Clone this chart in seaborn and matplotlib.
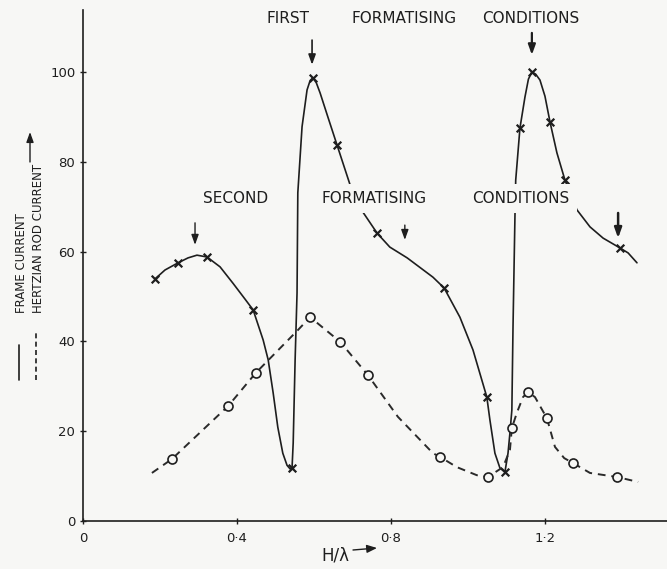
import matplotlib
matplotlib.use("Agg")
import matplotlib.pyplot as plt
import pandas as pd
import seaborn as sns

# Frame current: traced curve (H/lambda, current)
frame_curve_x = [0.187, 0.213, 0.247, 0.273, 0.296, 0.322, 0.356, 0.390, 0.421, 0.442,
                 0.468, 0.481, 0.494, 0.506, 0.519, 0.530, 0.538, 0.543, 0.546, 0.551,
                 0.556, 0.558, 0.569, 0.582, 0.590, 0.597, 0.606, 0.616, 0.636, 0.660,
                 0.681, 0.694, 0.727, 0.764, 0.797, 0.842, 0.909, 0.938, 0.979, 1.013,
                 1.049, 1.057, 1.070, 1.083, 1.096, 1.104, 1.109, 1.114, 1.117, 1.122,
                 1.124, 1.135, 1.148, 1.157, 1.166, 1.176, 1.187, 1.200, 1.213, 1.231,
                 1.252, 1.283, 1.317, 1.351, 1.395, 1.416, 1.439]
frame_curve_y = [53.9, 55.9, 57.5, 58.6, 59.2, 58.8, 56.6, 52.9, 49.4, 47.0,
                 40.3, 35.9, 28.5, 20.9, 15.1, 12.4, 11.6, 11.8, 17.4, 35.9,
                 50.8, 73.1, 87.8, 96.0, 98.1, 98.7, 97.6, 95.3, 90.0, 83.7,
                 78.2, 74.8, 68.8, 64.1, 61.0, 58.6, 54.3, 51.9, 45.4, 38.1,
                 27.6, 22.5, 15.1, 11.8, 10.9, 15.1, 19.6, 24.7, 43.2, 67.7,
                 75.9, 87.5, 94.4, 98.4, 100.0, 99.5, 98.2, 94.6, 88.9, 82.0,
                 75.9, 69.3, 65.5, 63.0, 60.8, 59.7, 57.5]
# Frame current: plotted readings
frame_pts_x = [0.187, 0.247, 0.322, 0.442, 0.543, 0.597, 0.660, 0.764, 0.938,
               1.049, 1.096, 1.135, 1.166, 1.213, 1.252, 1.395]
frame_pts_y = [53.9, 57.5, 58.8, 47.0, 11.8, 98.7, 83.7, 64.1, 51.9,
               27.6, 10.9, 87.5, 100.0, 88.9, 75.9, 60.8]

# Hertzian rod current: traced curve
rod_curve_x = [0.179, 0.231, 0.377, 0.449, 0.558, 0.590, 0.668, 0.740, 0.818, 0.909,
               0.927, 0.971, 1.023, 1.052, 1.091, 1.109, 1.114, 1.127, 1.143, 1.156,
               1.174, 1.205, 1.226, 1.250, 1.273, 1.317, 1.387, 1.442]
rod_curve_y = [10.7, 13.8, 25.6, 33.0, 42.5, 45.4, 39.9, 32.5, 23.2, 15.1,
               14.3, 12.0, 10.2, 9.8, 12.0, 15.8, 20.7, 24.1, 27.6, 28.7,
               27.6, 22.9, 16.5, 14.0, 12.9, 10.7, 9.8, 8.7]
# Hertzian rod current: plotted readings
rod_pts_x = [0.231, 0.377, 0.449, 0.590, 0.668, 0.740, 0.927, 1.052, 1.114,
             1.156, 1.205, 1.273, 1.387]
rod_pts_y = [13.8, 25.6, 33.0, 45.4, 39.9, 32.5, 14.3, 9.8, 20.7,
             28.7, 22.9, 12.9, 9.8]

x_ticks = [0, 0.4, 0.8, 1.2]
x_tick_labels = ["0", "0·4", "0·8", "1·2"]
y_ticks = [0, 20, 40, 60, 80, 100]

ink = "#1e1e1e"
paper = "#f7f7f5"

sns.set_theme(style="ticks")
plt.rcParams["font.family"] = ["DejaVu Sans"]

fig = plt.figure(figsize=(6.67, 5.69), dpi=100, facecolor=paper)
ax = fig.add_axes([83 / 667, 48 / 569, 584 / 667, 511 / 569], facecolor=paper)

frame_curve = pd.DataFrame({"h": frame_curve_x, "i": frame_curve_y})
rod_curve = pd.DataFrame({"h": rod_curve_x, "i": rod_curve_y})
frame_pts = pd.DataFrame({"h": frame_pts_x, "i": frame_pts_y})
rod_pts = pd.DataFrame({"h": rod_pts_x, "i": rod_pts_y})

sns.lineplot(data=frame_curve, x="h", y="i", sort=False, estimator=None,
             color=ink, lw=1.2, ax=ax, zorder=2)
sns.lineplot(data=rod_curve, x="h", y="i", sort=False, estimator=None,
             color="#2a2a2a", lw=1.4, ax=ax, zorder=2, linestyle=(0, (4, 3)))
sns.scatterplot(data=frame_pts, x="h", y="i", marker="x", s=30, color=ink,
                linewidth=1.6, ax=ax, zorder=3)
sns.scatterplot(data=rod_pts, x="h", y="i", marker="o", s=42, facecolor=paper,
                edgecolor=ink, linewidth=1.2, ax=ax, zorder=3)

ax.set_xlim(0, 1.517)
ax.set_ylim(0, 113.8)
ax.set_xticks(x_ticks)
ax.set_xticklabels(x_tick_labels)
ax.set_yticks(y_ticks)
ax.set_xlabel("")
ax.set_ylabel("")
for side in ("top", "right"):
    ax.spines[side].set_visible(False)
for side in ("left", "bottom"):
    ax.spines[side].set_color(ink)
    ax.spines[side].set_linewidth(1.2)
ax.tick_params(axis="both", colors=ink, labelcolor=ink, labelsize=9.5,
               length=4, width=1.0, direction="inout")
ax.tick_params(axis="x", pad=6)

# Captions over the peaks
box = dict(boxstyle="square,pad=0.45", facecolor=paper, edgecolor="none")
cap = dict(fontsize=11, color=ink, ha="center", va="center", zorder=5)
for label, xpos in (("FIRST", 0.532), ("FORMATISING", 0.834), ("CONDITIONS", 1.164)):
    ax.text(xpos, 112.0, label, clip_on=False, **cap)
for label, xpos in (("SECOND", 0.397), ("FORMATISING", 0.756), ("CONDITIONS", 1.138)):
    ax.text(xpos, 71.9, label, bbox=box, **cap)

# Pointers to the maxima
for xpos, y0, y1, lw in ((0.595, 107.1, 101.6, 1.2), (1.166, 108.7, 103.8, 1.6),
                         (0.291, 66.4, 61.5, 1.0), (0.836, 65.9, 62.6, 1.0),
                         (1.390, 68.6, 63.0, 1.8)):
    ax.annotate("", xy=(xpos, y1), xytext=(xpos, y0), zorder=4,
                arrowprops=dict(arrowstyle="-|>,head_length=0.5,head_width=0.18",
                                color=ink, lw=lw, shrinkA=0, shrinkB=0))

# Axis titles
fig.text(335 / 667, 1 - 556 / 569, "H/λ", fontsize=12, color=ink,
         ha="center", va="center")
ax.annotate("", xy=(377 / 667, 1 - 548 / 569), xytext=(353 / 667, 1 - 550 / 569),
            xycoords="figure fraction", textcoords="figure fraction",
            arrowprops=dict(arrowstyle="-|>,head_length=0.5,head_width=0.2",
                            color=ink, lw=1.0, shrinkA=0, shrinkB=0))

fig.text(22 / 667, 1 - 313 / 569, "FRAME CURRENT", rotation=90, fontsize=8.5,
         color=ink, ha="center", va="bottom")
fig.text(39 / 667, 1 - 313 / 569, "HERTZIAN ROD CURRENT", rotation=90, fontsize=8.5,
         color=ink, ha="center", va="bottom")
fig.add_artist(plt.Line2D([19 / 667, 19 / 667], [1 - 380 / 569, 1 - 345 / 569],
                          color=ink, lw=1.2))
fig.add_artist(plt.Line2D([36 / 667, 36 / 667], [1 - 380 / 569, 1 - 333 / 569],
                          color=ink, lw=1.2, linestyle=(0, (3, 2))))
ax.annotate("", xy=(30 / 667, 1 - 132 / 569), xytext=(30 / 667, 1 - 162 / 569),
            xycoords="figure fraction", textcoords="figure fraction",
            arrowprops=dict(arrowstyle="-|>,head_length=0.5,head_width=0.18",
                            color=ink, lw=1.0, shrinkA=0, shrinkB=0))

fig.savefig("out.png", dpi=100, facecolor=paper)
